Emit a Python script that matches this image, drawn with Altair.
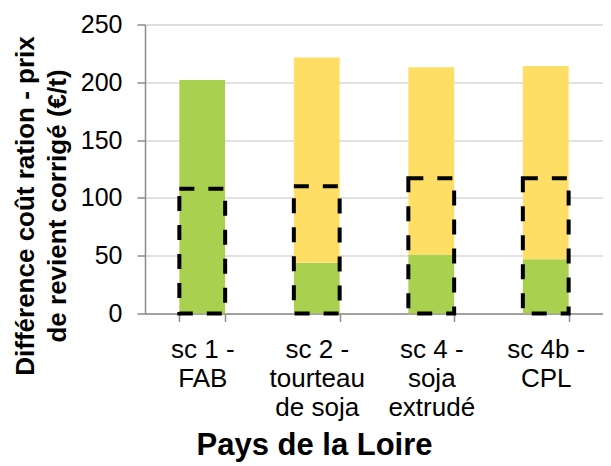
import altair as alt
import pandas as pd

# Data
scenarios = ["sc 1 -|FAB", "sc 2 -|tourteau|de soja", "sc 4 -|soja|extrudé", "sc 4b -|CPL"]
green_values = [202, 44, 51, 47]
yellow_values = [0, 177.5, 162, 167]
dashed_values = [108, 110, 117, 117]
y_ticks = [0, 50, 100, 150, 200, 250]

series_names = ["vert", "jaune"]
series_colors = ["#A9D04F", "#FFDE66"]

rows = []
for i, sc in enumerate(scenarios):
    rows.append({"scenario": sc, "serie": "vert", "ordre": 0, "valeur": green_values[i]})
    rows.append({"scenario": sc, "serie": "jaune", "ordre": 1, "valeur": yellow_values[i]})
stack_df = pd.DataFrame(rows)
dash_df = pd.DataFrame({"scenario": scenarios, "valeur": dashed_values})

FONT = "Liberation Sans"

x_enc = alt.X(
    "scenario:N",
    sort=scenarios,
    scale=alt.Scale(paddingInner=0.6, paddingOuter=0.3),
    axis=alt.Axis(
        title="Pays de la Loire",
        labelExpr="split(datum.label, '|')",
        labelAngle=0,
        labelFont=FONT,
        labelFontSize=26,
        labelLineHeight=29,
        labelColor="#000000",
        labelBaseline="top",
        labelPadding=15,
        tickBand="extent",
        tickSize=8,
        tickColor="#8C8C8C",
        tickWidth=1.5,
        domainColor="#8C8C8C",
        domainWidth=1.5,
        grid=False,
        titleFont=FONT,
        titleFontSize=31,
        titleFontWeight="bold",
        titleColor="#000000",
        titleX=169,
        titleY=141,
        titleAlign="center",
        titleBaseline="alphabetic",
    ),
)

y_axis = alt.Axis(
    title=["Différence coût ration - prix", "de revient corrigé (€/t)"],
    values=y_ticks,
    labelFont=FONT,
    labelFontSize=25,
    labelColor="#000000",
    labelPadding=15,
    tickSize=8,
    tickColor="#8C8C8C",
    tickWidth=1.5,
    domainColor="#8C8C8C",
    domainWidth=1.5,
    grid=True,
    gridColor="#D9D9D9",
    gridWidth=1.5,
    titleFont=FONT,
    titleFontSize=26,
    titleFontWeight="bold",
    titleColor="#000000",
    titleLineHeight=32,
    titleAngle=270,
    titleX=-132.5,
    titleY=181,
    titleAlign="center",
    titleBaseline="top",
)

bars = alt.Chart(stack_df).mark_bar().encode(
    x=x_enc,
    y=alt.Y("sum(valeur):Q", stack="zero", scale=alt.Scale(domain=[0, 250], nice=False), axis=y_axis),
    color=alt.Color("serie:N", scale=alt.Scale(domain=series_names, range=series_colors), legend=None),
    order=alt.Order("ordre:Q"),
)

boxes = alt.Chart(dash_df).mark_bar(
    fillOpacity=0,
    stroke="#000000",
    strokeWidth=4,
    strokeDash=[15, 14],
    strokeCap="butt",
).encode(
    x=alt.X("scenario:N", sort=scenarios),
    y=alt.Y("valeur:Q"),
)

chart = alt.layer(bars, boxes).properties(
    width=458,
    height=289,
    padding={"left": 137, "top": 16.5, "right": 0, "bottom": 152},
    autosize=alt.AutoSizeParams(type="none"),
).configure_view(stroke=None).configure(background="white")

chart.save("out.html", embed_options={"renderer": "svg", "actions": False})
